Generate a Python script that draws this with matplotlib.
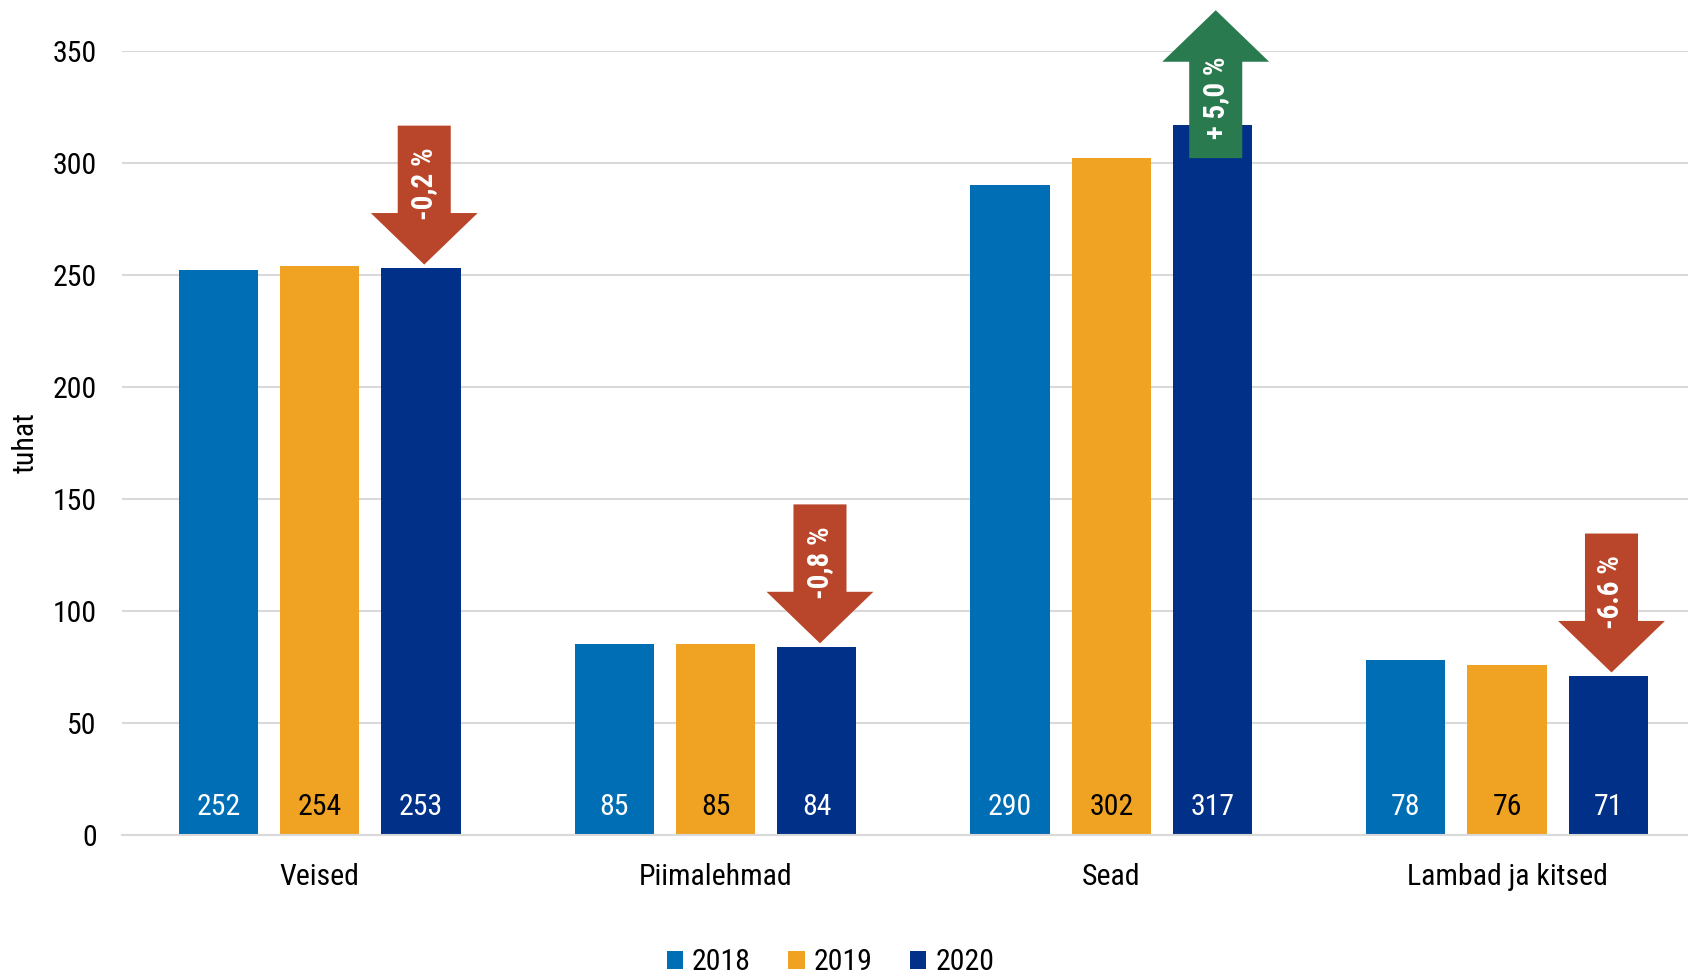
import matplotlib
matplotlib.use('Agg')
import matplotlib.pyplot as plt
from matplotlib import font_manager
from matplotlib.patches import FancyArrow
import numpy as np

# data
categories = ["Veised", "Piimalehmad", "Sead", "Lambad ja kitsed"]
years = ["2018", "2019", "2020"]
v2018 = [252, 85, 290, 78]
v2019 = [254, 85, 302, 76]
v2020 = [253, 84, 317, 71]
labels2018 = ["252", "85", "290", "78"]
labels2019 = ["254", "85", "302", "76"]
labels2020 = ["253", "84", "317", "71"]
change_text = ["-0,2 %", "-0,8 %", "+ 5,0 %", "-6.6 %"]
change_up = [False, False, True, False]

colors = ["#006EB5", "#F0A322", "#003087"]
label_colors = ["white", "black", "white"]
red = "#B9452A"
green = "#2A7A50"

names = {f.name for f in font_manager.fontManager.ttflist}
family = "Roboto Condensed" if "Roboto Condensed" in names else "Roboto"
plt.rcParams['font.family'] = [family, 'DejaVu Sans']

fs = 21.5

fig = plt.figure(figsize=(16.88, 9.76), dpi=100)
ax = fig.add_axes([0.0722, 0.1445, 0.9378, 0.8037])

x = np.arange(len(categories))
bw = 0.2
off = 0.256
series = [v2018, v2019, v2020]
lab = [labels2018, labels2019, labels2020]
for i, vals in enumerate(series):
    ax.bar(x + (i - 1) * off, vals, width=bw, color=colors[i], label=years[i], zorder=2)
    for j, v in enumerate(vals):
        ax.text(x[j] + (i - 1) * off, 12.5, lab[i][j], ha='center', va='center',
                color=label_colors[i], fontsize=fs, zorder=3)

# change arrows above 2020 bars
shaft_w = 0.134
head_w = 0.27
head_len = 23
for j, v in enumerate(v2020):
    xc = x[j] + off + 0.008
    if change_up[j]:
        y0 = v - 15
        arr = FancyArrow(xc, y0, 0, 66, width=shaft_w, head_width=head_w,
                         head_length=head_len, length_includes_head=True,
                         color=green, lw=0, zorder=4, clip_on=False)
        ty = y0 + 27
    else:
        y0 = v + 1.5 + 62
        arr = FancyArrow(xc, y0, 0, -62, width=shaft_w, head_width=head_w,
                         head_length=head_len, length_includes_head=True,
                         color=red, lw=0, zorder=4, clip_on=False)
        ty = y0 - 26
    ax.add_patch(arr)
    ax.text(xc, ty, change_text[j], rotation=90, ha='center', va='center',
            color='white', fontsize=21, fontweight='bold', zorder=5)

ax.set_xlim(-0.5, 3.5)
ax.set_ylim(0, 350)
ax.set_yticks(range(0, 351, 50))
ax.yaxis.grid(True, color='#D9D9D9', lw=1.5, zorder=0)
ax.set_axisbelow(True)
for s in ['top', 'right', 'left']:
    ax.spines[s].set_visible(False)
ax.spines['bottom'].set_color('#D9D9D9')
ax.spines['bottom'].set_linewidth(1.5)
ax.tick_params(axis='both', length=0, labelsize=fs)
ax.tick_params(axis='y', pad=18)
ax.tick_params(axis='x', pad=20)
ax.set_xticks(x)
ax.set_xticklabels(categories)
ax.set_ylabel("tuhat", fontsize=fs)
ax.yaxis.set_label_coords(-0.052, 0.5)

fig.legend(loc='lower center', bbox_to_anchor=(0.492, -0.028), ncol=3, frameon=False,
           fontsize=fs, handlelength=0.55, handleheight=0.55, handletextpad=0.3,
           columnspacing=1.25)

fig.savefig("out.png", dpi=100)
